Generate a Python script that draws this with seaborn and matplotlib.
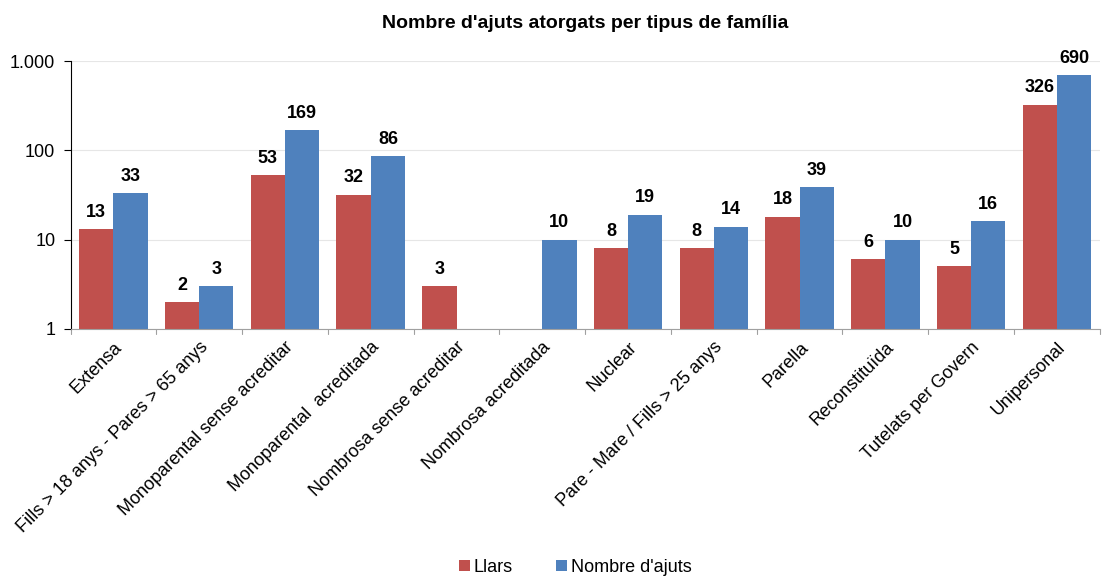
import numpy as np
import pandas as pd
import matplotlib.pyplot as plt
import matplotlib.ticker as mticker
import seaborn as sns

categories = ["Extensa", "Fills > 18 anys - Pares > 65 anys", "Monoparental sense acreditar",
              "Monoparental  acreditada", "Nombrosa sense acreditar", "Nombrosa acreditada",
              "Nuclear", "Pare - Mare / Fills > 25 anys", "Parella", "Reconstituïda",
              "Tutelats per Govern", "Unipersonal"]
llars = [13, 2, 53, 32, 3, np.nan, 8, 8, 18, 6, 5, 326]
ajuts = [33, 3, 169, 86, np.nan, 10, 19, 14, 39, 10, 16, 690]
series_names = ["Llars", "Nombre d'ajuts"]
colors = ["#C0504D", "#4F81BD"]

df = pd.DataFrame({
    "categoria": categories * 2,
    "serie": [series_names[0]] * len(categories) + [series_names[1]] * len(categories),
    "valor": llars + ajuts,
})

sns.set_style("white", {"text.color": "black", "xtick.color": "black", "ytick.color": "black"})
plt.rcParams['font.family'] = ['Liberation Sans', 'DejaVu Sans']

fig = plt.figure(figsize=(11.02, 5.76), dpi=100)
ax = fig.add_axes([0.064, 0.429, 0.934, 0.465])

sns.barplot(data=df, x="categoria", y="valor", hue="serie", palette=colors,
            width=0.8, saturation=1, linewidth=0, ax=ax, legend=True)
ax.set_yscale("log")
ax.set_ylim(1, 1000)
ax.set_xlim(-0.5, len(categories) - 0.5)
ax.yaxis.set_major_locator(mticker.FixedLocator([1, 10, 100, 1000]))
ax.yaxis.set_major_formatter(mticker.FuncFormatter(lambda v, p: f"{int(v):,}".replace(",", ".")))
ax.yaxis.set_minor_locator(mticker.NullLocator())
ax.grid(axis="y", color="#E6E6E6", linewidth=0.8)
ax.set_axisbelow(True)

for container in ax.containers:
    labels = ["" if np.isnan(v) else f"{int(v)}" for v in container.datavalues]
    ax.bar_label(container, labels=labels, padding=6, fontsize=13, fontweight="bold", color="black")

ax.set_xlabel("")
ax.set_ylabel("")
ax.set_xticks(range(len(categories)))
ax.set_xticklabels(categories, rotation=45, ha="right", rotation_mode="anchor", fontsize=13)
ax.tick_params(axis="x", length=0, pad=7, labelcolor="black")
ax.tick_params(axis="y", labelsize=13, length=5, direction="out", left=True, color="black",
               labelcolor="black", pad=6)

# category boundary ticks on x axis
for b in np.arange(-0.5, len(categories), 1.0):
    ax.plot([b, b], [0, -0.018], transform=ax.get_xaxis_transform(), color="#A0A0A0",
            linewidth=0.8, clip_on=False)

for s in ["top", "right"]:
    ax.spines[s].set_visible(False)
ax.spines["left"].set_color("black")
ax.spines["bottom"].set_color("#A0A0A0")

ax.set_title("Nombre d'ajuts atorgats per tipus de família", fontsize=14,
             fontweight="bold", pad=24, color="black")

handles, lbls = ax.get_legend_handles_labels()
leg = ax.legend(handles, lbls, loc="lower center", bbox_to_anchor=(0.522, -0.028),
                bbox_transform=fig.transFigure, ncol=2, frameon=False, fontsize=13,
                handlelength=0.6, handleheight=0.6, handletextpad=0.2, columnspacing=2.4)
for t in leg.get_texts():
    t.set_color("black")

fig.savefig("out.png", dpi=100)
